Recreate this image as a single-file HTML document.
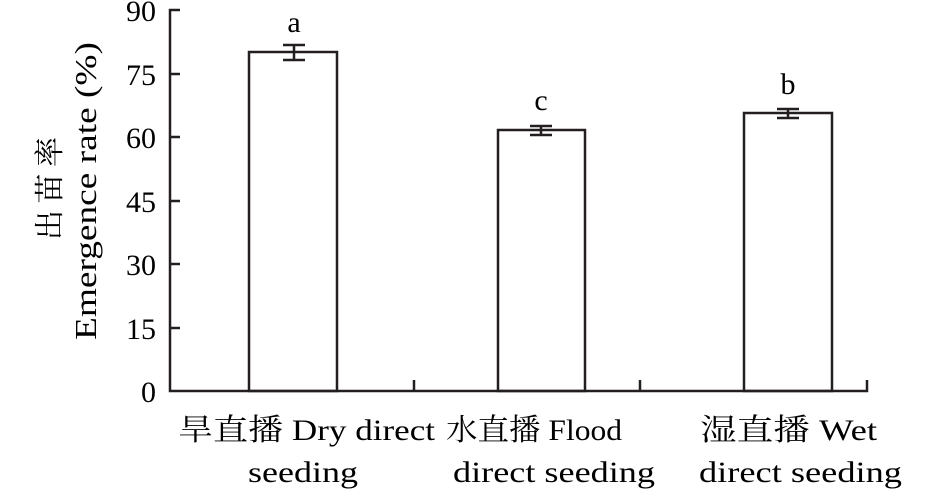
<!DOCTYPE html>
<html><head><meta charset="utf-8"><style>body{margin:0;background:#fff}</style></head><body>
<svg width="950" height="490" xmlns="http://www.w3.org/2000/svg" font-family="'Liberation Serif','Noto Serif CJK SC',serif" fill="#000">
<g stroke="#231f20" stroke-width="2.5" fill="none">
<path d="M180,10 H170 V391 H867 V380"/>
<path d="M170,74 H180 M170,137 H180 M170,201 H180 M170,264 H180 M170,328 H180"/>
<path d="M414,391 V380 M640,391 V380"/>
<rect x="249" y="52" width="88" height="339"/>
<rect x="498" y="130" width="87" height="261"/>
<rect x="744" y="113" width="88" height="278"/>
<path d="M283,45 H305 M283,60 H305 M294,45 V60"/>
<path d="M530,126 H552 M530,135 H552 M541,126 V135"/>
<path d="M777,109 H799 M777,118 H799 M788,109 V118"/>
</g>
<g font-size="30" text-anchor="end">
<text x="156" y="21">90</text><text x="156" y="85">75</text><text x="156" y="148">60</text>
<text x="156" y="212">45</text><text x="156" y="275">30</text><text x="156" y="339">15</text><text x="156" y="402">0</text>
</g>
<g font-size="30" text-anchor="middle">
<text x="294" y="32">a</text><text x="541" y="110">c</text><text x="788" y="94">b</text>
</g>
<g font-size="30">
<text x="178" y="440" textLength="257" lengthAdjust="spacingAndGlyphs">旱直播 Dry direct</text>
<text x="248" y="482" textLength="110" lengthAdjust="spacingAndGlyphs">seeding</text>
<text x="446" y="440" textLength="176" lengthAdjust="spacingAndGlyphs">水直播 Flood</text>
<text x="453" y="482" textLength="202" lengthAdjust="spacingAndGlyphs">direct seeding</text>
<text x="700" y="440" textLength="177" lengthAdjust="spacingAndGlyphs">湿直播 Wet</text>
<text x="699" y="482" textLength="203" lengthAdjust="spacingAndGlyphs">direct seeding</text>
</g>
<g transform="rotate(-90)">
<text x="-240" y="60" font-size="30" textLength="103" lengthAdjust="spacing">出苗率</text>
<text x="-340" y="96" font-size="31" textLength="298" lengthAdjust="spacingAndGlyphs">Emergence rate (%)</text>
</g>
</svg>
</body></html>
